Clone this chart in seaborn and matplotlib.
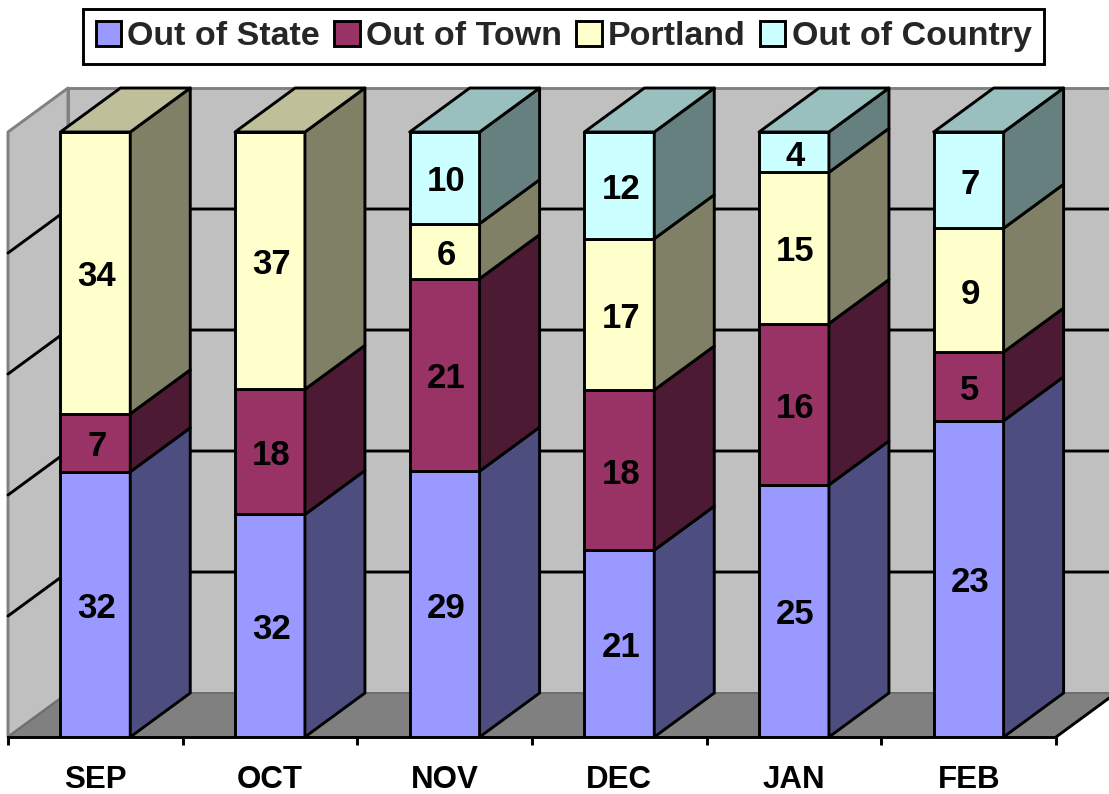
import pandas as pd
import seaborn as sns
import matplotlib.pyplot as plt
from matplotlib.patches import Patch, Polygon

months = ["SEP", "OCT", "NOV", "DEC", "JAN", "FEB"]
out_of_state = [32, 32, 29, 21, 25, 23]
out_of_town = [7, 18, 21, 18, 16, 5]
portland = [34, 37, 6, 17, 15, 9]
out_of_country = [0, 0, 10, 12, 4, 7]

series_names = ["Out of State", "Out of Town", "Portland", "Out of Country"]
front_colors = ["#9999FF", "#993366", "#FFFFCC", "#CCFFFF"]
side_colors = ["#4D4D80", "#4D1A33", "#808066", "#668080"]
top_colors = ["#7373BF", "#73264D", "#BFBF99", "#99BFBF"]

BAR_WIDTH = 0.4
DEPTH_X = 0.3435
DEPTH_Y = 7.27
WALL = "#C0C0C0"
FLOOR = "#808080"
LW = 2.1

sns.set_theme(style="white")
plt.rcParams["font.family"] = ["Liberation Sans", "DejaVu Sans"]

df = pd.DataFrame(
    [out_of_state, out_of_town, portland, out_of_country],
    index=series_names,
    columns=months,
)
shares = df / df.sum() * 100
bottoms = shares.cumsum().shift(1).fillna(0)

fig = plt.figure(figsize=(11.09, 7.94), dpi=100)
ax = fig.add_axes([8 / 1109, 1 - 737 / 794, 1048 / 1109, 605 / 794])
ax.patch.set_visible(False)

left, right = -0.5, 5.5


def box(points, face, edge="black", lw=LW, z=1.5):
    ax.add_patch(Polygon(points, closed=True, facecolor=face, edgecolor=edge,
                         linewidth=lw, joinstyle="round", clip_on=False, zorder=z))


# walls and floor
box([(left + DEPTH_X, DEPTH_Y), (right + DEPTH_X, DEPTH_Y),
     (right + DEPTH_X, 100 + DEPTH_Y), (left + DEPTH_X, 100 + DEPTH_Y)],
    WALL, edge=FLOOR, z=0.1)
box([(left, 0), (left + DEPTH_X, DEPTH_Y), (left + DEPTH_X, 100 + DEPTH_Y), (left, 100)],
    WALL, edge=FLOOR, z=0.2)
box([(left, 0), (right, 0), (right + DEPTH_X, DEPTH_Y), (left + DEPTH_X, DEPTH_Y)],
    FLOOR, edge="#6E6E6E", lw=1.4, z=0.3)
ax.plot([right, right + DEPTH_X], [0, DEPTH_Y], color="black", lw=LW,
        clip_on=False, zorder=0.4)

for level in [20, 40, 60, 80]:
    ax.plot([left, left + DEPTH_X, right + DEPTH_X],
            [level, level + DEPTH_Y, level + DEPTH_Y],
            color="black", lw=LW, clip_on=False, zorder=0.5)

# front faces
for i, name in enumerate(series_names):
    sns.barplot(x=months, y=shares.loc[name].values, bottom=bottoms.loc[name].values,
                order=months, color=front_colors[i], saturation=1, width=BAR_WIDTH,
                edgecolor="black", linewidth=LW, errorbar=None, ax=ax, zorder=1)

# side faces, top faces and value labels
for pos, month in enumerate(months):
    x_right = pos + BAR_WIDTH / 2
    x_left = pos - BAR_WIDTH / 2
    last = 0
    for i, name in enumerate(series_names):
        low = bottoms.loc[name, month]
        high = low + shares.loc[name, month]
        if df.loc[name, month] == 0:
            continue
        box([(x_right, low), (x_right + DEPTH_X, low + DEPTH_Y),
             (x_right + DEPTH_X, high + DEPTH_Y), (x_right, high)], side_colors[i])
        ax.text(pos + 0.008, (low + high) / 2 - 0.65, str(df.loc[name, month]),
                ha="center", va="center", fontsize=25, fontweight="bold",
                color="black", zorder=3)
        last = i
    box([(x_left, 100), (x_right, 100), (x_right + DEPTH_X, 100 + DEPTH_Y),
         (x_left + DEPTH_X, 100 + DEPTH_Y)], top_colors[last])

ax.set_xlim(left, right)
ax.set_ylim(0, 100)
ax.set_xlabel("")
ax.set_ylabel("")
ax.set_yticks([])
ax.set_xticks([left + k for k in range(7)])
ax.set_xticklabels([])
ax.set_xticks(range(6), minor=True)
ax.set_xticklabels(months, minor=True, fontsize=22.5, fontweight="bold", color="black")
ax.tick_params(axis="x", which="major", bottom=True, length=5.8, width=LW, color="black")
ax.tick_params(axis="x", which="minor", bottom=False, length=0, pad=20)

sns.despine(ax=ax, left=True, top=True, right=True)
ax.spines["bottom"].set_color("black")
ax.spines["bottom"].set_linewidth(LW)
ax.spines["bottom"].set_zorder(2.5)

handles = [Patch(facecolor=c, edgecolor="black", linewidth=LW) for c in front_colors]
fig.legend(handles, series_names, ncol=4, loc="center",
           bbox_to_anchor=(563.5 / 1109, 1 - 36.5 / 794),
           prop={"weight": "bold", "size": 24.5},
           frameon=True, fancybox=False, edgecolor="black", framealpha=1,
           handlelength=0.75, handleheight=0.75, handletextpad=0.18,
           columnspacing=0.42, borderpad=0.36, borderaxespad=0)
fig.legends[0].get_frame().set_linewidth(LW)

fig.savefig("out.png", dpi=100)
